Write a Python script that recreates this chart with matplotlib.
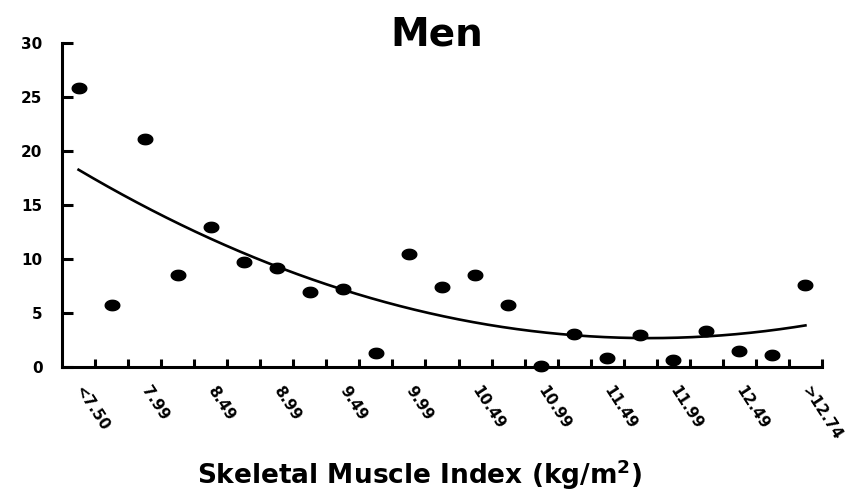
import numpy as np
import matplotlib
matplotlib.use("Agg")
import matplotlib.pyplot as plt
from matplotlib.path import Path

categories = ["<7.50", "7.74", "7.99", "8.24", "8.49", "8.74", "8.99", "9.24", "9.49",
              "9.74", "9.99", "10.24", "10.49", "10.74", "10.99", "11.24", "11.49",
              "11.74", "11.99", "12.24", "12.49", "12.74", ">12.74"]
values = [25.8, 5.7, 21.1, 8.5, 12.9, 9.7, 9.1, 6.9, 7.2, 1.3, 10.4, 7.4, 8.5,
          5.7, 0.1, 3.0, 0.8, 2.9, 0.6, 3.3, 1.5, 1.1, 7.6]
shown_labels = categories[::2]
yticks = [0, 5, 10, 15, 20, 25, 30]

plt.rcParams['font.family'] = ['DejaVu Sans']
fig = plt.figure(figsize=(8.5, 4.95), dpi=100)
ax = fig.add_axes([0.073, 0.259, 0.894, 0.655])

x = np.arange(len(values))
y = np.array(values)

# elliptical marker
t = np.linspace(0, 2 * np.pi, 40)
ell = Path(np.column_stack([1.4 * np.cos(t), np.sin(t)]), closed=True)

ax.plot(x, y, linestyle='none', marker=ell, markersize=10.5, color='black',
        clip_on=False, zorder=3)

coef = np.polyfit(x, y, 2)
xf = np.linspace(0, len(values) - 1, 200)
ax.plot(xf, np.polyval(coef, xf), color='black', lw=1.9, zorder=2)

ax.set_xlim(-0.5, len(values) - 0.5)
ax.set_ylim(0, 30)
for s in ['top', 'right']:
    ax.spines[s].set_visible(False)
for s in ['left', 'bottom']:
    ax.spines[s].set_linewidth(2.2)

ax.set_yticks(yticks)
ax.set_yticklabels([str(v) for v in yticks], fontsize=11, fontweight='bold')
ax.tick_params(axis='y', direction='in', length=8, width=2.2, pad=14)

ax.set_xticks(np.arange(len(values))[::2])
ax.set_xticklabels([])
ax.set_xticks(np.arange(len(values)) + 0.5, minor=True)
ax.tick_params(axis='x', which='major', length=0)
ax.tick_params(axis='x', which='minor', direction='in', length=6, width=2.2)

for xi, lab in zip(np.arange(len(values))[::2], shown_labels):
    ax.annotate(lab, xy=(xi, 0), xycoords='data', xytext=(6, -17),
                textcoords='offset pixels', rotation=-57, ha='left', va='top',
                rotation_mode='anchor', fontsize=11, fontweight='bold',
                annotation_clip=False)

fig.text(0.514, 0.909, "Men", ha='center', va='baseline', fontsize=28, fontweight='bold')
fig.text(0.494, 0.04, "Skeletal Muscle Index (kg/m$^\\mathbf{2}$)", ha='center', va='center',
         fontsize=19, fontweight='bold')

fig.savefig("out.png", dpi=100)
